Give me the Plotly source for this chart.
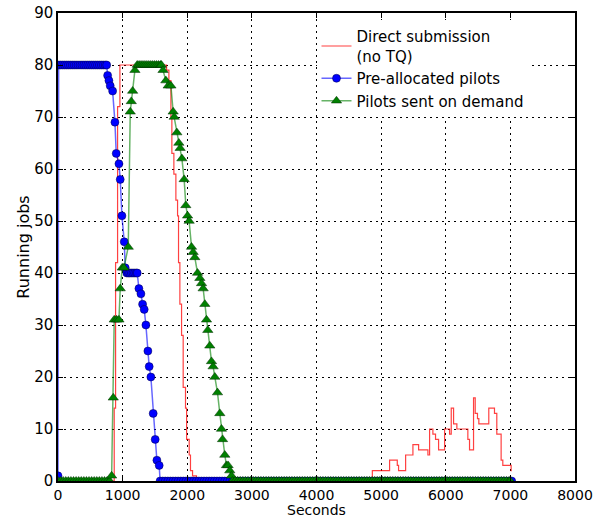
import plotly.graph_objects as go

# ---- Data ----
# Direct submission (no TQ): step series
red_t = [0, 870, 891, 922, 958, 1680, 1716, 1747, 1762, 1793, 1824, 1850, 1865, 1886, 1912,
         1937, 1973, 1990, 2030, 2050, 2082, 2143, 4864, 5131, 5250, 5270, 5379, 5492, 5580,
         5724, 5750, 5801, 5842, 5889, 5982, 6059, 6085, 6121, 6172, 6342, 6368, 6430, 6456,
         6491, 6512, 6666, 6754, 6790, 6857, 6883, 7012, 7022]
red_v = [0, 14, 42, 72, 80, 79, 77, 70, 63, 59, 54, 51, 42, 34, 28,
         18, 14, 8, 5, 2, 1, 0, 2, 4, 3, 2, 5, 7, 6,
         5, 10, 9, 8, 6, 10, 9, 14, 11, 10, 8, 6, 16, 13,
         12, 11, 14, 13, 9, 4, 3, 2, 2]

# Pre-allocated pilots
blue_t = [0, 10, 40, 70, 100, 130, 160, 190, 220, 250, 280, 310, 340, 370, 400, 430, 460, 490,
          520, 550, 580, 610, 640, 670, 700, 730, 753, 768, 788, 808, 845, 881, 901, 943, 963,
          989, 1025, 1040, 1065, 1090, 1110, 1135, 1160, 1185, 1210, 1226, 1252, 1283, 1309,
          1334, 1360, 1391, 1411, 1437, 1473, 1504, 1530, 1566, 1580,
          1620, 1660, 1700, 1740, 1780, 1820, 1860, 1900, 1940, 1980, 2020, 2060, 2100, 2140,
          2180, 2220, 2260, 2300, 2340, 2380, 2420, 2460, 2500, 2540, 2580, 2620, 2660, 2700,
          2740, 2780, 2820, 2860, 2900, 2940, 2980, 3020, 3060, 3100, 3140, 3180, 3220, 3260,
          3300, 3340, 3380, 3420, 3460, 3500, 3540, 3580, 3620, 3660, 3700, 3740, 3780, 3820,
          3860, 3900, 3940, 3980, 4020, 4060, 4100, 4140, 4180, 4220, 4260, 4300, 4340, 4380,
          4420, 4460, 4500, 4540, 4580, 4620, 4660, 4700, 4740, 4780, 4820, 4860, 4900, 4940,
          4980, 5020, 5060, 5100, 5140, 5180, 5220, 5260, 5300, 5340, 5380, 5420, 5460, 5500,
          5540, 5580, 5620, 5660, 5700, 5740, 5780, 5820, 5860, 5900, 5940, 5980, 6020, 6060,
          6100, 6140, 6180, 6220, 6260, 6300, 6340, 6380, 6420, 6460, 6500, 6540, 6580, 6620,
          6660, 6700, 6740, 6780, 6820, 6860, 6900, 6940, 6980, 7020]
blue_v = [1, 80, 80, 80, 80, 80, 80, 80, 80, 80, 80, 80, 80, 80, 80, 80, 80, 80,
          80, 80, 80, 80, 80, 80, 80, 80, 80, 78, 77, 76, 75, 69, 63, 61, 58,
          51, 46, 41, 40, 40, 40, 40, 40, 40, 40, 40, 37, 36, 34,
          33, 30, 25, 22, 20, 13, 8, 4, 3, 0,
          0, 0, 0, 0, 0, 0, 0, 0, 0, 0, 0, 0, 0, 0,
          0, 0, 0, 0, 0, 0, 0, 0, 0, 0, 0, 0, 0, 0,
          0, 0, 0, 0, 0, 0, 0, 0, 0, 0, 0, 0, 0, 0,
          0, 0, 0, 0, 0, 0, 0, 0, 0, 0, 0, 0, 0, 0,
          0, 0, 0, 0, 0, 0, 0, 0, 0, 0, 0, 0, 0, 0,
          0, 0, 0, 0, 0, 0, 0, 0, 0, 0, 0, 0, 0, 0,
          0, 0, 0, 0, 0, 0, 0, 0, 0, 0, 0, 0, 0, 0,
          0, 0, 0, 0, 0, 0, 0, 0, 0, 0, 0, 0, 0, 0,
          0, 0, 0, 0, 0, 0, 0, 0, 0, 0, 0, 0, 0, 0,
          0, 0, 0, 0, 0, 0, 0, 0, 0, 0]

# Pilots sent on demand
green_t = [0, 40, 80, 120, 160, 200, 240, 280, 320, 360, 400, 440, 480, 520, 560, 600, 640,
           680, 720, 760, 800, 830, 855, 870, 907, 943, 963, 994, 1020, 1087, 1118, 1134, 1155,
           1190, 1226, 1255, 1285, 1315, 1345, 1375, 1405, 1435, 1465, 1495, 1525, 1555, 1585,
           1600, 1625, 1669, 1705, 1747, 1782, 1798, 1839, 1870, 1890, 1917, 1952, 1978, 2005,
           2029, 2066, 2091, 2117, 2159, 2195, 2221, 2246, 2272, 2298, 2318, 2349, 2375, 2400,
           2427, 2468, 2504, 2530, 2546, 2581, 2607, 2632, 2658, 2685, 2700,
           2740, 2780, 2820, 2860, 2900, 2940, 2980, 3020, 3060, 3100, 3140, 3180, 3220, 3260,
           3300, 3340, 3380, 3420, 3460, 3500, 3540, 3580, 3620, 3660, 3700, 3740, 3780, 3820,
           3860, 3900, 3940, 3980, 4020, 4060, 4100, 4140, 4180, 4220, 4260, 4300, 4340, 4380,
           4420, 4460, 4500, 4540, 4580, 4620, 4660, 4700, 4740, 4780, 4820, 4860, 4900, 4940,
           4980, 5020, 5060, 5100, 5140, 5180, 5220, 5260, 5300, 5340, 5380, 5420, 5460, 5500,
           5540, 5580, 5620, 5660, 5700, 5740, 5780, 5820, 5860, 5900, 5940, 5980, 6020, 6060,
           6100, 6140, 6180, 6220, 6260, 6300, 6340, 6380, 6420, 6460, 6500, 6540, 6580, 6620,
           6660, 6700, 6740, 6780, 6820, 6860, 6900, 6940, 6980, 7000]
green_v = [0, 0, 0, 0, 0, 0, 0, 0, 0, 0, 0, 0, 0, 0, 0, 0, 0,
           0, 0, 0, 0, 1, 16, 31, 31, 31, 37, 41, 41, 45, 71, 73, 75,
           79, 80, 80, 80, 80, 80, 80, 80, 80, 80, 80, 80, 80, 80,
           80, 79, 77, 76, 76, 71, 70, 67, 65, 64, 62, 58, 53, 51,
           50, 45, 44, 43, 40, 39, 38, 37, 34, 31, 29, 26, 23, 22,
           20, 17, 13, 10, 8, 5, 3, 3, 2, 1, 0,
           0, 0, 0, 0, 0, 0, 0, 0, 0, 0, 0, 0, 0, 0,
           0, 0, 0, 0, 0, 0, 0, 0, 0, 0, 0, 0, 0, 0,
           0, 0, 0, 0, 0, 0, 0, 0, 0, 0, 0, 0, 0, 0,
           0, 0, 0, 0, 0, 0, 0, 0, 0, 0, 0, 0, 0, 0,
           0, 0, 0, 0, 0, 0, 0, 0, 0, 0, 0, 0, 0, 0,
           0, 0, 0, 0, 0, 0, 0, 0, 0, 0, 0, 0, 0, 0,
           0, 0, 0, 0, 0, 0, 0, 0, 0, 0, 0, 0, 0, 0,
           0, 0, 0, 0, 0, 0, 0, 0, 0, 0, 0, 0, 0, 0]

x_ticks = [0, 1000, 2000, 3000, 4000, 5000, 6000, 7000, 8000]
y_ticks = [0, 10, 20, 30, 40, 50, 60, 70, 80, 90]

FONT = "DejaVu Sans"

fig = go.Figure()
fig.add_trace(go.Scatter(
    x=red_t, y=red_v, mode="lines", name="Direct submission<br>(no TQ)",
    line=dict(color="rgba(255,0,0,0.75)", width=1.2, shape="hv"),
))
fig.add_trace(go.Scatter(
    x=blue_t, y=blue_v, mode="lines+markers", name="Pre-allocated pilots",
    line=dict(color="rgba(0,0,255,0.6)", width=1.5),
    marker=dict(symbol="circle", size=8, color="#0000ff",
                line=dict(color="rgba(0,0,60,0.8)", width=0.6)),
))
fig.add_trace(go.Scatter(
    x=green_t, y=green_v, mode="lines+markers", name="Pilots sent on demand",
    line=dict(color="rgba(0,128,0,0.6)", width=1.5),
    marker=dict(symbol="triangle-up", size=9, color="#008000",
                line=dict(color="rgba(0,40,0,0.8)", width=0.6)),
))

axis_common = dict(
    showline=True, linecolor="black", linewidth=1.5, mirror="ticks",
    ticks="inside", ticklen=5, tickcolor="black", tickwidth=1,
    showgrid=True, gridcolor="black", gridwidth=1, griddash="2px,4px",
    zeroline=False,
)

fig.update_xaxes(
    range=[0, 8000], tickvals=x_ticks, ticktext=[str(v) for v in x_ticks],
    tickfont=dict(family=FONT, size=14, color="black"), ticklabelstandoff=0,
    **axis_common,
)
fig.update_yaxes(
    range=[0, 90], tickvals=y_ticks, ticktext=[str(v) for v in y_ticks],
    tickfont=dict(family=FONT, size=15, color="black"),
    title=dict(text="Running jobs", font=dict(family=FONT, size=16, color="black"), standoff=1),
    **axis_common,
)

fig.add_annotation(
    text="Seconds", xref="paper", yref="paper", x=0.5, y=0, yshift=-20,
    xanchor="center", yanchor="top", showarrow=False, borderpad=0,
    font=dict(family=FONT, size=14, color="black"),
)

fig.update_layout(
    width=602, height=520,
    margin=dict(l=58, r=27, t=13, b=39, autoexpand=False),
    paper_bgcolor="white", plot_bgcolor="white",
    font=dict(family=FONT, size=15, color="black"),
    showlegend=True,
    legend=dict(
        x=0.5, y=0.985, xanchor="left", yanchor="top",
        bgcolor="white", borderwidth=0,
        font=dict(family=FONT, size=15, color="black"),
        tracegroupgap=2, itemwidth=30,
    ),
)

fig.write_html("out.html")
